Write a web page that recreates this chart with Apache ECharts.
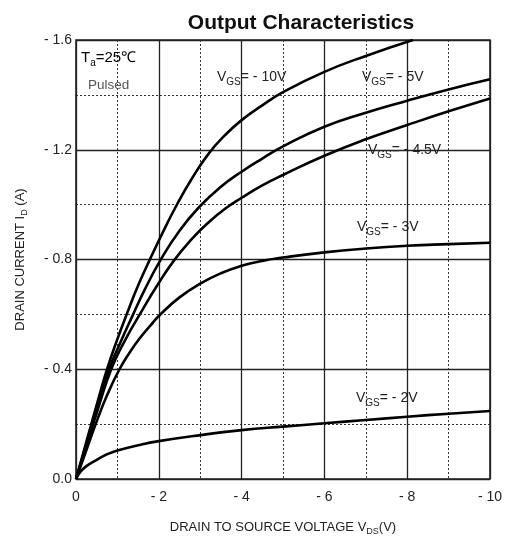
<!DOCTYPE html>
<html><head><meta charset="utf-8">
<script src="https://cdn.jsdelivr.net/npm/echarts@6/dist/echarts.min.js"></script>
<style>html,body{margin:0;padding:0;background:#fff}#c{width:508px;height:543px}</style>
</head><body><div id="c"></div>
<script>
// V_DS (V), I_D (A)
const vgs10 = [[0,0],[-0.25,-0.135],[-0.5,-0.27],[-0.75,-0.4],[-1.0,-0.51],[-1.25,-0.61],[-1.5,-0.705],[-1.8,-0.805],[-2.1,-0.9],[-2.42,-0.995],[-2.8,-1.095],[-3.2,-1.185],[-3.6,-1.253],[-4,-1.308],[-4.5,-1.362],[-5,-1.41],[-6,-1.484],[-7,-1.542],[-8.14,-1.6]];
const vgs5 = [[0,0],[-0.25,-0.125],[-0.5,-0.255],[-0.8,-0.4],[-1.08,-0.5],[-1.35,-0.59],[-1.66,-0.69],[-2.03,-0.795],[-2.5,-0.905],[-3.0,-0.995],[-3.5,-1.065],[-4,-1.12],[-4.5,-1.168],[-5,-1.212],[-6,-1.284],[-7,-1.335],[-8,-1.379],[-9,-1.42],[-10,-1.457]];
const vgs45 = [[0,0],[-0.25,-0.12],[-0.5,-0.24],[-0.85,-0.4],[-1.2,-0.51],[-1.58,-0.61],[-1.96,-0.705],[-2.36,-0.795],[-2.8,-0.875],[-3.2,-0.935],[-3.6,-0.985],[-4,-1.025],[-4.5,-1.07],[-5,-1.108],[-6,-1.178],[-7,-1.238],[-8,-1.29],[-9,-1.34],[-10,-1.387]];
const vgs3 = [[0,0],[-0.25,-0.105],[-0.5,-0.21],[-0.75,-0.305],[-1.05,-0.4],[-1.3,-0.462],[-1.55,-0.515],[-1.8,-0.56],[-2,-0.594],[-2.5,-0.662],[-3,-0.712],[-3.5,-0.75],[-4,-0.777],[-4.5,-0.795],[-5,-0.807],[-6,-0.826],[-7,-0.84],[-8,-0.85],[-9,-0.856],[-10,-0.861]];
const vgs2 = [[0,0],[-0.1,-0.025],[-0.25,-0.047],[-0.5,-0.07],[-0.75,-0.09],[-1,-0.104],[-1.5,-0.123],[-2,-0.138],[-3,-0.16],[-4,-0.178],[-5,-0.191],[-6,-0.203],[-7,-0.215],[-8,-0.227],[-9,-0.238],[-10,-0.248]];
const seriesNames = ['-10V','-5V','-4.5V','-3V','-2V'];
const seriesData = [vgs10, vgs5, vgs45, vgs3, vgs2];
const xTickLabels = {'0':'0','-2':'- 2','-4':'- 4','-6':'- 6','-8':'- 8','-10':'- 10'};
const yTickLabels = {'0':'0.0','-0.4':'- 0.4','-0.8':'- 0.8','-1.2':'- 1.2','-1.6':'- 1.6'};

const chart = echarts.init(document.getElementById('c'));
const FONT = 'Liberation Sans, Arial, sans-serif';
const subRich = {
  s: {fontSize: 10, fontFamily: FONT, color: '#222', padding: [10, 0, 0, 0]},
  n: {fontSize: 14, fontFamily: FONT, color: '#222'}
};
function vgsText(v){ return '{n|V}{s|GS}{n|= - ' + v.replace('-', '') + '}'; }
const labelPos = [[217, 80], [362, 80], [368, 153], [357, 230], [356, 401]];

chart.setOption({
  animation: false,
  backgroundColor: '#fff',
  title: {text: 'Output Characteristics', left: 296, top: 8, textAlign: 'center',
    textStyle: {fontFamily: FONT, fontSize: 21, fontWeight: 'bold', color: '#111'}},
  grid: {left: 76, right: 18, top: 40, bottom: 64, show: true, borderColor: '#222', borderWidth: 1.6},
  xAxis: {
    type: 'value', min: -10, max: 0, interval: 2, inverse: true,
    name: 'DRAIN TO SOURCE VOLTAGE V{s|DS}(V)', nameLocation: 'middle', nameGap: 40,
    nameTextStyle: {fontFamily: FONT, fontSize: 13, color: '#222',
      rich: {s: {fontSize: 9, fontFamily: FONT, color: '#222', padding: [8, 0, 0, 0]}}},
    axisLine: {show: false}, axisTick: {show: false},
    axisLabel: {fontFamily: FONT, fontSize: 14, color: '#222', margin: 11,
      formatter: v => xTickLabels[String(v)] ?? ''},
    splitLine: {show: true, lineStyle: {color: '#222', width: 1.3}},
    minorTick: {show: false, splitNumber: 2},
    minorSplitLine: {show: true, lineStyle: {color: '#333', width: 1, type: [2, 2]}}
  },
  yAxis: {
    type: 'value', min: -1.6, max: 0, interval: 0.4, inverse: true,
    name: 'DRAIN CURRENT I{s|D} (A)', nameLocation: 'middle', nameGap: 47, nameRotate: 90,
    nameTextStyle: {fontFamily: FONT, fontSize: 13, color: '#222',
      rich: {s: {fontSize: 9, fontFamily: FONT, color: '#222', padding: [8, 0, 0, 0]}}},
    axisLine: {show: false}, axisTick: {show: false},
    axisLabel: {fontFamily: FONT, fontSize: 14, color: '#222', margin: 4,
      formatter: v => yTickLabels[String(Math.round(v * 10) / 10)] ?? ''},
    splitLine: {show: true, lineStyle: {color: '#222', width: 1.3}},
    minorTick: {show: false, splitNumber: 2},
    minorSplitLine: {show: true, lineStyle: {color: '#333', width: 1, type: [2, 2]}}
  },
  series: seriesData.map((d, i) => ({
    type: 'line', name: seriesNames[i], data: d, smooth: 0.5, showSymbol: false,
    lineStyle: {color: '#000', width: 2.6}, clip: true
  })),
  graphic: [
    ...seriesNames.map((n, i) => ({
      type: 'text', left: labelPos[i][0], top: labelPos[i][1] - 10, z: 100,
      style: {text: vgsText(n), rich: subRich, fill: '#222'}
    })),
    {type: 'text', left: 81, top: 50, z: 100,
     style: {text: '{n|T}{s|a}{n|=25℃}', rich: {
       n: {fontSize: 15, fontFamily: FONT, color: '#222'},
       s: {fontSize: 10, fontFamily: FONT, color: '#222', padding: [11, 0, 0, 0]}}}},
    {type: 'text', left: 88, top: 78, z: 100,
     style: {text: 'Pulsed', fontSize: 13.5, fontFamily: FONT, fill: '#555'}}
  ]
});
</script></body></html>
